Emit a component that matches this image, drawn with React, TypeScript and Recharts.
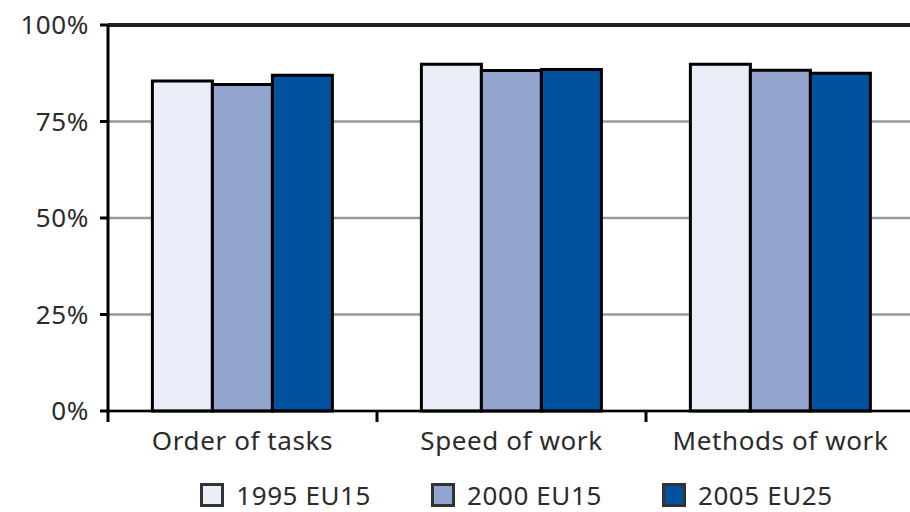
import {
  BarChart,
  Bar,
  XAxis,
  YAxis,
  CartesianGrid,
  Legend,
  ReferenceLine,
} from 'recharts'

const categories = ['Order of tasks', 'Speed of work', 'Methods of work']
const values1995 = [85.5, 89.8, 89.8]
const values2000 = [84.6, 88.2, 88.3]
const values2005 = [87.0, 88.5, 87.5]
const seriesNames = ['1995 EU15', '2000 EU15', '2005 EU25']
const yTicks = [0, 25, 50, 75, 100]

const colors = ['#e9edf7', '#93a5cf', '#00529f']
const FONT = '"Noto Sans", sans-serif'
const TEXT = '#2b2b2b'

const CHART_W = 915
const Y_AXIS_W = 108
const BAND = (CHART_W - Y_AXIS_W) / categories.length

const data = categories.map((name, i) => ({
  name,
  s1995: values1995[i],
  s2000: values2000[i],
  s2005: values2005[i],
}))

function CategoryTick({ x, y, payload }: any) {
  const left = x - BAND / 2
  return (
    <g>
      <line x1={left} x2={left} y1={y} y2={y + 11} stroke="#000" strokeWidth={3} />
      <text
        x={x}
        y={y + 39}
        textAnchor="middle"
        fontFamily={FONT}
        fontSize={26}
        letterSpacing={0.6}
        fill={TEXT}
      >
        {payload.value}
      </text>
    </g>
  )
}

function LegendBox() {
  return (
    <div
      style={{
        display: 'flex',
        justifyContent: 'center',
        gap: 60,
        paddingTop: 20,
        paddingLeft: 10,
        fontFamily: FONT,
        fontSize: 26,
        letterSpacing: 0.6,
        color: TEXT,
      }}
    >
      {seriesNames.map((n, i) => (
        <div key={n} style={{ display: 'flex', alignItems: 'center', gap: 12, height: 28 }}>
          <span
            style={{
              display: 'inline-block',
              width: 18,
              height: 18,
              background: colors[i],
              border: '3px solid #333',
            }}
          />
          <span style={{ lineHeight: '28px' }}>{n}</span>
        </div>
      ))}
    </div>
  )
}

export default function App() {
  return (
    <div
      style={{
        position: 'absolute',
        left: 0,
        top: 0,
        width: 910,
        height: 512,
        overflow: 'hidden',
        background: '#fff',
      }}
    >
      <BarChart
        width={CHART_W}
        height={512}
        data={data}
        margin={{ top: 25, right: 0, left: 0, bottom: 0 }}
        barCategoryGap="16.5%"
        barGap={0}
      >
        <CartesianGrid vertical={false} stroke="#9a9a9a" strokeWidth={2.5} />
        <XAxis
          dataKey="name"
          height={50}
          interval={0}
          tickSize={0}
          tickMargin={0}
          tick={<CategoryTick />}
          axisLine={{ stroke: '#000', strokeWidth: 2.5 }}
        />
        <YAxis
          width={Y_AXIS_W}
          domain={[0, 100]}
          ticks={yTicks}
          interval={0}
          tickFormatter={(v) => `${v}%`}
          tickSize={8}
          tickMargin={11}
          tick={{ fontFamily: FONT, fontSize: 26, fill: TEXT, letterSpacing: 0.6 }}
          tickLine={{ stroke: '#000', strokeWidth: 3 }}
          axisLine={{ stroke: '#000', strokeWidth: 3 }}
        />
        <ReferenceLine y={100} stroke="#222" strokeWidth={4} />
        <Legend
          verticalAlign="bottom"
          height={51}
          wrapperStyle={{ left: Y_AXIS_W, width: CHART_W - Y_AXIS_W, overflow: 'visible' }}
          content={<LegendBox />}
        />
        <Bar dataKey="s1995" name={seriesNames[0]} fill={colors[0]} stroke="#000" strokeWidth={3} isAnimationActive={false} />
        <Bar dataKey="s2000" name={seriesNames[1]} fill={colors[1]} stroke="#000" strokeWidth={3} isAnimationActive={false} />
        <Bar dataKey="s2005" name={seriesNames[2]} fill={colors[2]} stroke="#000" strokeWidth={3} isAnimationActive={false} />
      </BarChart>
    </div>
  )
}
